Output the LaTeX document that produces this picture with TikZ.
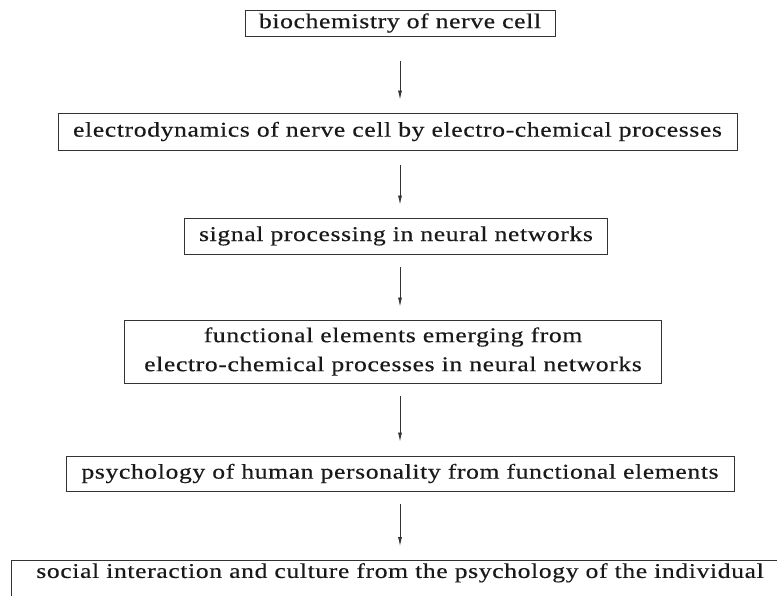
\documentclass[tikz,border=0pt]{standalone}
\usepackage{fontspec}
\setmainfont{Liberation Serif}[FakeStretch=1.22,LetterSpace=3,FakeBold=0.4]
\usetikzlibrary{arrows.meta}

\begin{document}
\begin{tikzpicture}[
  x=1pt, y=-1pt,
  box/.style={draw=black!80, line width=0.9pt, inner sep=0pt, align=center,
    font=\fontsize{21}{29}\selectfont, text=black!90},
  arr/.style={draw=black!80, line width=0.8pt, -{Latex[length=9pt,width=4pt]}}
]
\useasboundingbox (0,0) rectangle (777,596);
\coordinate (ax) at (400,0);

% the six levels, top to bottom
\node[box, minimum width=310, minimum height=26] (b1) at (400,23) {biochemistry of nerve cell};
\node[box, minimum width=679, minimum height=37] (b2) at (397.5,131.5) {electrodynamics of nerve cell by electro-chemical processes};
\node[box, minimum width=423, minimum height=36] (b3) at (396,236) {signal processing in neural networks};
\node[box, minimum width=537, minimum height=63] (b4) at (393,351.5) {functional elements emerging from\\electro-chemical processes in neural networks};
\node[box, minimum width=668, minimum height=35] (b5) at (400,473.5) {psychology of human personality from functional elements};
\node[box, anchor=north, minimum width=778, minimum height=60, text height=15, text depth=40] (b6) at (400,560) {social interaction and culture from the psychology of the individual};

% arrows
\draw[arr, shorten <=25, shorten >=13] (b1.south -| ax) -- (b2.north -| ax);
\draw[arr, shorten <=15, shorten >=13] (b2.south -| ax) -- (b3.north -| ax);
\draw[arr, shorten <=13, shorten >=13] (b3.south -| ax) -- (b4.north -| ax);
\draw[arr, shorten <=13, shorten >=14] (b4.south -| ax) -- (b5.north -| ax);
\draw[arr, shorten <=13, shorten >=14] (b5.south -| ax) -- (b6.north -| ax);

\end{tikzpicture}
\end{document}
